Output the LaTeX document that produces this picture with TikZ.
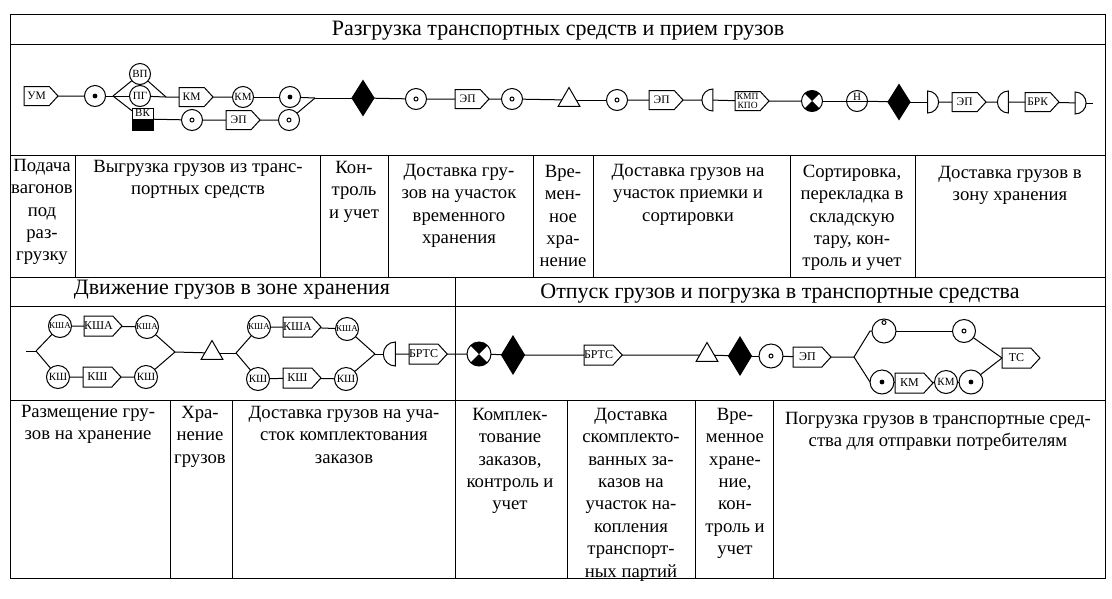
\documentclass[tikz,border=0pt]{standalone}
\usepackage{fontspec}
\setmainfont{Liberation Serif}
\usetikzlibrary{shapes.geometric,shapes.symbols,shapes.multipart}

\begin{document}
\begin{tikzpicture}[x=1pt,y=-1pt]
\tikzset{every node/.style={inner sep=0pt,outer sep=0pt}}
\tikzset{every path/.style={line width=1pt}}
\tikzset{title/.style={font=\fontsize{22}{24}\selectfont}}
\tikzset{cell/.style={anchor=north,align=center,font=\fontsize{18.7}{22.4}\selectfont}}
\tikzset{box/.style={draw,signal,signal to=east,signal pointer angle=95,anchor=west,minimum width=34pt,minimum height=19pt,font=\fontsize{11.5}{12}\selectfont}}
\tikzset{bigbox/.style={box,minimum width=38pt,minimum height=20pt,font=\fontsize{12}{13}\selectfont}}
\tikzset{op/.style={draw,circle,minimum size=21pt,font=\fontsize{11}{12}\selectfont}}
\tikzset{bigop/.style={op,minimum size=23pt,font=\fontsize{11}{12}\selectfont}}
\tikzset{bigopa/.style={bigop,font=\fontsize{9}{10}\selectfont}}
\tikzset{dotop/.style={op,path picture={\fill (path picture bounding box.center) circle (2.4pt);}}}
\tikzset{ringop/.style={op,path picture={\draw (path picture bounding box.center) circle (2pt);}}}
\tikzset{topop/.style={op,path picture={\draw ([yshift=-3.5pt]path picture bounding box.north) circle (2pt);}}}
\tikzset{crossop/.style={op,path picture={
  \fill (path picture bounding box.center) -- (path picture bounding box.north west) -- (path picture bounding box.north east) -- cycle;
  \fill (path picture bounding box.center) -- (path picture bounding box.south west) -- (path picture bounding box.south east) -- cycle;}}}
\tikzset{splitop/.style={op,path picture={\draw (path picture bounding box.west) -- (path picture bounding box.east);}}}
\tikzset{storeblack/.style={draw,fill=black,diamond,minimum width=22pt,minimum height=35pt}}
\tikzset{store/.style={draw,regular polygon,regular polygon sides=3,minimum size=25pt}}
\tikzset{halfr/.style={draw,semicircle,shape border rotate=270,minimum size=11pt}}
\tikzset{halfl/.style={draw,semicircle,shape border rotate=90,minimum size=11pt}}

% table
\draw (10,14) rectangle (1105,578);
\draw (10,44) -- (1105,44);
\draw (10,155) -- (1105,155);
\draw (10,277) -- (1105,277);
\draw (10,306) -- (1105,306);
\draw (10,400) -- (1105,400);
\draw (455,277) -- (455,400);
\foreach \x in {75,320,388,533,593,790,915} \draw (\x,155) -- (\x,277);
\foreach \x in {170,232,455,567,695,773} \draw (\x,400) -- (\x,578);

% headers
\node[title] (head1) at (558,31) {Разгрузка транспортных средств и прием грузов};
\node[title] (head2) at (232,290) {Движение грузов в зоне хранения};
\node[title] (head3) at (780,294) {Отпуск грузов и погрузка в транспортные средства};

% upper chain
\node[box] (um) at (24,96) {УМ};
\node[dotop] (o1) at (95,96) {};
\coordinate (b1) at (113,96);
\node[op] (vp) at (140,74) {ВП};
\node[op] (pg) at (140,96) {ПГ};
\node[draw,rectangle split,rectangle split parts=2,rectangle split part fill={white,black},minimum width=21pt,font=\fontsize{11}{12}\selectfont] (vk) at (142.5,119) {\rule[-2pt]{0pt}{10pt}ВК\nodepart{two}\rule{0pt}{10pt}};
\coordinate (m1) at (166,97);
\node[box] (km1) at (179,97) {КМ};
\node[op] (km2) at (243,97) {КМ};
\node[dotop] (o2) at (290,97) {};
\node[ringop] (o3) at (192,120) {};
\node[box] (ep1) at (226,120) {ЭП};
\node[ringop] (o4) at (289,120) {};
\coordinate (m2) at (315,98);
\node[storeblack] (d1) at (363,98) {};
\node[ringop] (o5) at (416,99) {};
\node[box] (ep2) at (455,99) {ЭП};
\node[ringop] (o6) at (512,99) {};
\node[store] (t1) at (569,100) {};
\node[ringop] (o7) at (617,100) {};
\node[box] (ep3) at (649,100) {ЭП};
\node[halfl] (h1) at (708.5,100) {};
\node[box,align=center,font=\fontsize{9.5}{9.5}\selectfont] (kmp) at (735,101) {КМП\\КПО};
\node[crossop] (x1) at (812,101) {};
\node[splitop] (n1) at (857,101) {\raisebox{0.5pt}[0pt][0pt]{Н}};
\node[storeblack] (d2) at (899,102) {};
\node[halfr] (h2) at (932,102) {};
\node[box] (ep4) at (952,102) {ЭП};
\node[halfl] (h3) at (1004,102) {};
\node[box] (brk) at (1025,102) {БРК};
\node[halfr] (h4) at (1079.5,103) {};
\coordinate (e1) at (1093,103);

% lower chain
\coordinate (s1) at (26,351);
\coordinate (b2) at (36,351);
\node[bigopa] (ksa1) at (60,326) {КША};
\node[bigbox] (ksa2) at (84,326) {КША};
\node[bigopa] (ksa3) at (147,327) {КША};
\node[bigop] (ks1) at (58,377) {КШ};
\node[bigbox] (ks2) at (83,377) {КШ};
\node[bigop] (ks3) at (146,377) {КШ};
\coordinate (m3) at (175,352);
\node[store] (t2) at (212,353) {};
\coordinate (b3) at (236,353);
\node[bigopa] (ksa4) at (259,327) {КША};
\node[bigbox] (ksa5) at (283,327) {КША};
\node[bigopa] (ksa6) at (347,329) {КША};
\node[bigop] (ks4) at (258,379) {КШ};
\node[bigbox] (ks5) at (283,378) {КШ};
\node[bigop] (ks6) at (346,379) {КШ};
\coordinate (m4) at (375,354);
\node[halfl,minimum size=12pt] (h5) at (390.5,354) {};
\node[bigbox] (brts1) at (409,354) {БРТС};
\node[crossop,minimum size=24pt] (x2) at (479,354) {};
\node[storeblack,minimum width=23pt,minimum height=38pt] (d3) at (513,355) {};
\node[bigbox] (brts2) at (584,355) {БРТС};
\node[store] (t3) at (707,355) {};
\node[storeblack,minimum width=23pt,minimum height=38pt] (d4) at (740,356) {};
\node[ringop,minimum size=24pt] (o8) at (771,356) {};
\node[bigbox] (ep5) at (793,357) {ЭП};
\coordinate (b4) at (854,357);
\node[topop,minimum size=24pt] (o9) at (884,331) {};
\node[ringop,minimum size=23pt] (o10) at (964,331) {};
\node[dotop,minimum size=24pt] (o11) at (882,382) {};
\node[bigbox] (km3) at (895,383) {КМ};
\node[bigop] (km4) at (946,382) {КМ};
\node[dotop,minimum size=24pt] (o12) at (971,382) {};
\node[bigbox] (ts) at (1002,358) {ТС};

\foreach \a/\b in {um/o1,o1/b1,b1/vp,b1/pg,b1/vk,vp/m1,pg/m1,m1/km1,km1/km2,km2/o2,o2/m2,vk/o3,o3/ep1,ep1/o4,o4/m2,m2/d1,
  d1/o5,o5/ep2,ep2/o6,o6/t1,t1/o7,o7/ep3,ep3/h1,h1/kmp,kmp/x1,x1/n1,n1/d2,d2/h2,h2/ep4,ep4/h3,h3/brk,brk/h4,h4/e1}
  \draw (\a) -- (\b);
\foreach \a/\b in {s1/b2,b2/ksa1,b2/ks1,ksa1/ksa2,ksa2/ksa3,ks1/ks2,ks2/ks3,ksa3/m3,ks3/m3,m3/t2,t2/b3,b3/ksa4,b3/ks4,
  ksa4/ksa5,ksa5/ksa6,ks4/ks5,ks5/ks6,ksa6/m4,ks6/m4,m4/h5,h5/brts1,brts1/x2,x2/d3,d3/brts2,brts2/t3,t3/d4,d4/o8,o8/ep5,ep5/b4,
  o9/o10,o11/km3,km3/km4,km4/o12,o10/ts.west,o12/ts.west}
  \draw (\a) -- (\b);
\draw (b4) -- ++(16,-26) -- (o9);
\draw (b4) -- ++(16,25) -- (o11);

% upper cells
\node[cell] (c1) at (42,159) {Подача\\вагонов\\под\\раз-\\грузку};
\node[cell] (c2) at (198,160) {Выгрузка грузов из транс-\\портных средств};
\node[cell] (c3) at (354,161) {Кон-\\троль\\и учет};
\node[cell] (c4) at (459,164) {Доставка гру-\\зов на участок\\временного\\хранения};
\node[cell] (c5) at (563,165) {Вре-\\мен-\\ное\\хра-\\нение};
\node[cell] (c6) at (688,164) {Доставка грузов на\\участок приемки и\\сортировки};
\node[cell] (c7) at (852,165) {Сортировка,\\перекладка в\\складскую\\тару, кон-\\троль и учет};
\node[cell] (c8) at (1010,166) {Доставка грузов в\\зону хранения};

% lower cells
\node[cell] (c9) at (88,405) {Размещение гру-\\зов на хранение};
\node[cell] (c10) at (200,406) {Хра-\\нение\\грузов};
\node[cell] (c11) at (344,406) {Доставка грузов на уча-\\сток комплектования\\заказов};
\node[cell] (c12) at (510,408) {Комплек-\\тование\\заказов,\\контроль и\\учет};
\node[cell] (c13) at (631,408) {Доставка\\скомплекто-\\ванных за-\\казов на\\участок на-\\копления\\транспорт-\\ных партий};
\node[cell] (c14) at (735,408) {Вре-\\менное\\хране-\\ние,\\кон-\\троль и\\учет};
\node[cell] (c15) at (938,412) {Погрузка грузов в транспортные сред-\\ства для отправки потребителям};

\useasboundingbox (0,0) rectangle (1112,598);
\end{tikzpicture}
\end{document}
